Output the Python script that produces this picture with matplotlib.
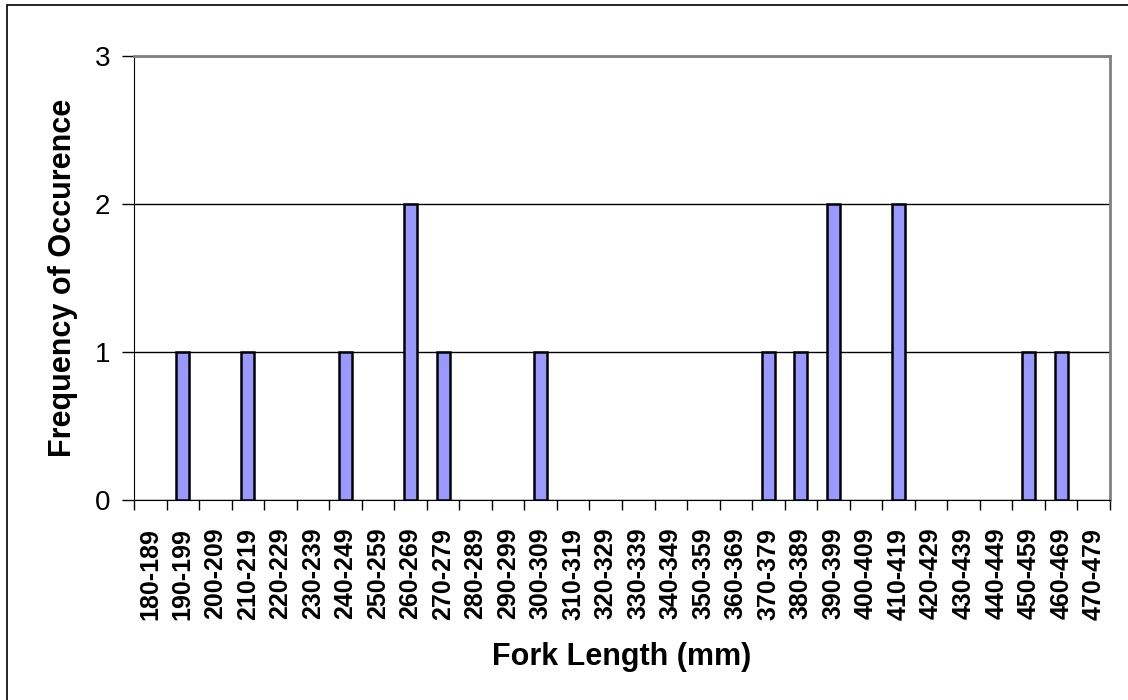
import matplotlib
matplotlib.use("Agg")
import matplotlib.pyplot as plt
import numpy as np
from matplotlib.patches import Rectangle

plt.rcParams['font.family'] = ['Liberation Sans', 'DejaVu Sans']

# length classes (mm) and fish counts
categories = ["180-189", "190-199", "200-209", "210-219", "220-229", "230-239",
              "240-249", "250-259", "260-269", "270-279", "280-289", "290-299",
              "300-309", "310-319", "320-329", "330-339", "340-349", "350-359",
              "360-369", "370-379", "380-389", "390-399", "400-409", "410-419",
              "420-429", "430-439", "440-449", "450-459", "460-469", "470-479"]
counts = [0, 1, 0, 1, 0, 0,
          1, 0, 2, 1, 0, 0,
          1, 0, 0, 0, 0, 0,
          0, 1, 1, 2, 0, 2,
          0, 0, 0, 1, 1, 0]

fig = plt.figure(figsize=(11.28, 7), dpi=100)
fig.patches.append(Rectangle((7 / 1128, -0.1), 1.2, 1.1 - 5 / 700, transform=fig.transFigure,
                             fill=False, edgecolor='black', linewidth=1.2))
ax = fig.add_axes([134 / 1128, 1 - 500 / 700, (1110 - 134) / 1128, (500 - 56) / 700])

x = np.arange(len(categories))
bars = ax.bar(x, counts, width=0.4, color='#9999FF', edgecolor='black', linewidth=1.8, zorder=3)
# empty classes get no outline
for b, c in zip(bars, counts):
    if c == 0:
        b.set_visible(False)

ax.set_xlim(-0.5, len(categories) - 0.5)
ax.set_ylim(0, 3)
ax.set_yticks([0, 1, 2, 3])
ax.yaxis.grid(True, color='black', linewidth=1)
ax.set_axisbelow(True)

ax.set_xticks(x)
ax.set_xticklabels(categories, rotation=90, fontsize=18, fontweight='bold')
ax.set_xticks(np.arange(len(categories) + 1) - 0.5, minor=True)
ax.tick_params(axis='x', which='major', length=0, pad=20)
ax.tick_params(axis='x', which='minor', length=7, width=1, color='black')
ax.tick_params(axis='y', length=9, width=1, labelsize=20, pad=8)

for s in ['top', 'right']:
    ax.spines[s].set_color('#808080')
    ax.spines[s].set_linewidth(2)
ax.spines['left'].set_color('black')
ax.spines['bottom'].set_color('black')

ax.set_ylabel("Frequency of Occurence", fontsize=22, fontweight='bold', labelpad=12)
ax.set_xlabel("Fork Length (mm)", fontsize=22, fontweight='bold', labelpad=16)

fig.savefig("out.png", dpi=100)
